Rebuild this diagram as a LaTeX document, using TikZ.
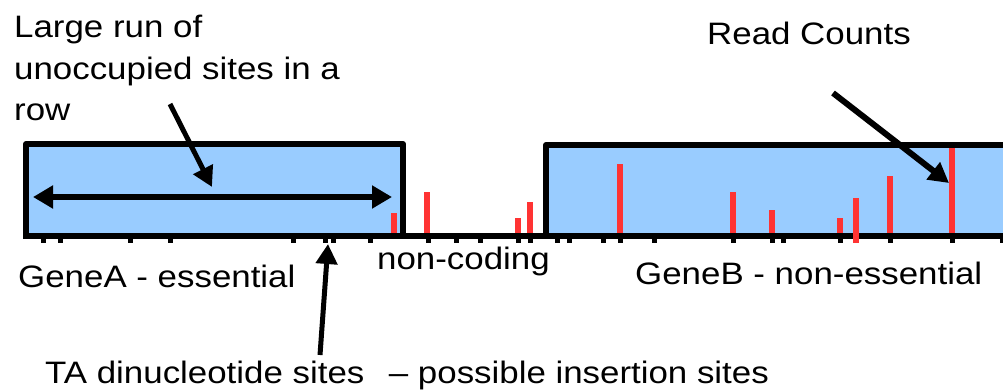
\documentclass[tikz,border=0pt]{standalone}
\usepackage{fontspec}
\setmainfont{Liberation Sans}[FakeStretch=1.125]
\usetikzlibrary{arrows.meta}
\definecolor{boxblue}{HTML}{99CCFF}
\definecolor{readred}{HTML}{FF3333}
\begin{document}
\begin{tikzpicture}[x=1pt,y=-1pt,
  lbl/.style={inner sep=0pt,anchor=base west,font=\fontsize{31}{37}\selectfont},
  gene/.style={fill=boxblue,draw=black,line width=6pt,line join=round},
  tamark/.style={fill=black},
  readbar/.style={fill=readred},
  ptr/.style={-{Triangle[length=20pt,width=21pt]},line width=5pt},
  dbl/.style={{Triangle[length=20pt,width=22pt]}-{Triangle[length=20pt,width=22pt]},line width=5.5pt}]
\useasboundingbox (0,0) rectangle (1003,391);
\clip (0,0) rectangle (1003,391);
% gene boxes
\fill[boxblue] (26,144) rectangle (403,236);
\fill[boxblue] (546,145) rectangle (1010,236);
% read count bars
\foreach \x/\t in {394/213, 427/192, 518/218, 530/202, 620/164, 733/192, 772/210, 840/218, 890/176, 952/145}
  \fill[readbar] (\x-3,\t) rectangle (\x+3,234);
% borders
\draw[gene,fill=none] (26,236) -- (26,144) -- (403,144) -- (403,236);
\draw[gene,fill=none] (546,236) -- (546,145) -- (1010,145);
\draw[line width=6pt] (23,236) -- (1010,236);
% TA sites
\foreach \x in {43,60,130,170,293,325,333,370,428,456,480,518,530,557,569,603,620,654,733,772,783,840,890,952,1002}
  \fill[tamark] (\x-2.5,236) rectangle (\x+2.5,243);
\fill[readbar] (853,198) rectangle (859,243);
% labels
\node[lbl] (lr1) at (14,37) {Large run of};
\node[lbl] (lr2) at (14,79) {unoccupied sites in a};
\node[lbl] (lr3) at (14,120) {row};
\node[lbl] (rc) at (707,44) {Read Counts};
\node[lbl] (ga) at (18,287) {GeneA - essential};
\node[lbl] (nc) at (377,269) {non-coding};
\node[lbl] (gb) at (635,284) {GeneB - non-essential};
\node[lbl] (ta) at (45,383) {TA dinucleotide sites\ \ \,-- possible insertion sites};
% arrows
\coordinate (runL) at (33,197);
\coordinate (runR) at (392,197);
\coordinate (runS) at (170,104);
\coordinate (runE) at (212,187);
\coordinate (rcS) at (833,93);
\coordinate (rcE) at (949,183);
\coordinate (taS) at (320,355);
\coordinate (taE) at (328,244);
\draw[dbl] (runL) -- (runR);
\draw[ptr] (runS) -- (runE);
\draw[ptr,line width=6pt] (rcS) -- (rcE);
\draw[ptr] (taS) -- (taE);
\end{tikzpicture}
\end{document}
